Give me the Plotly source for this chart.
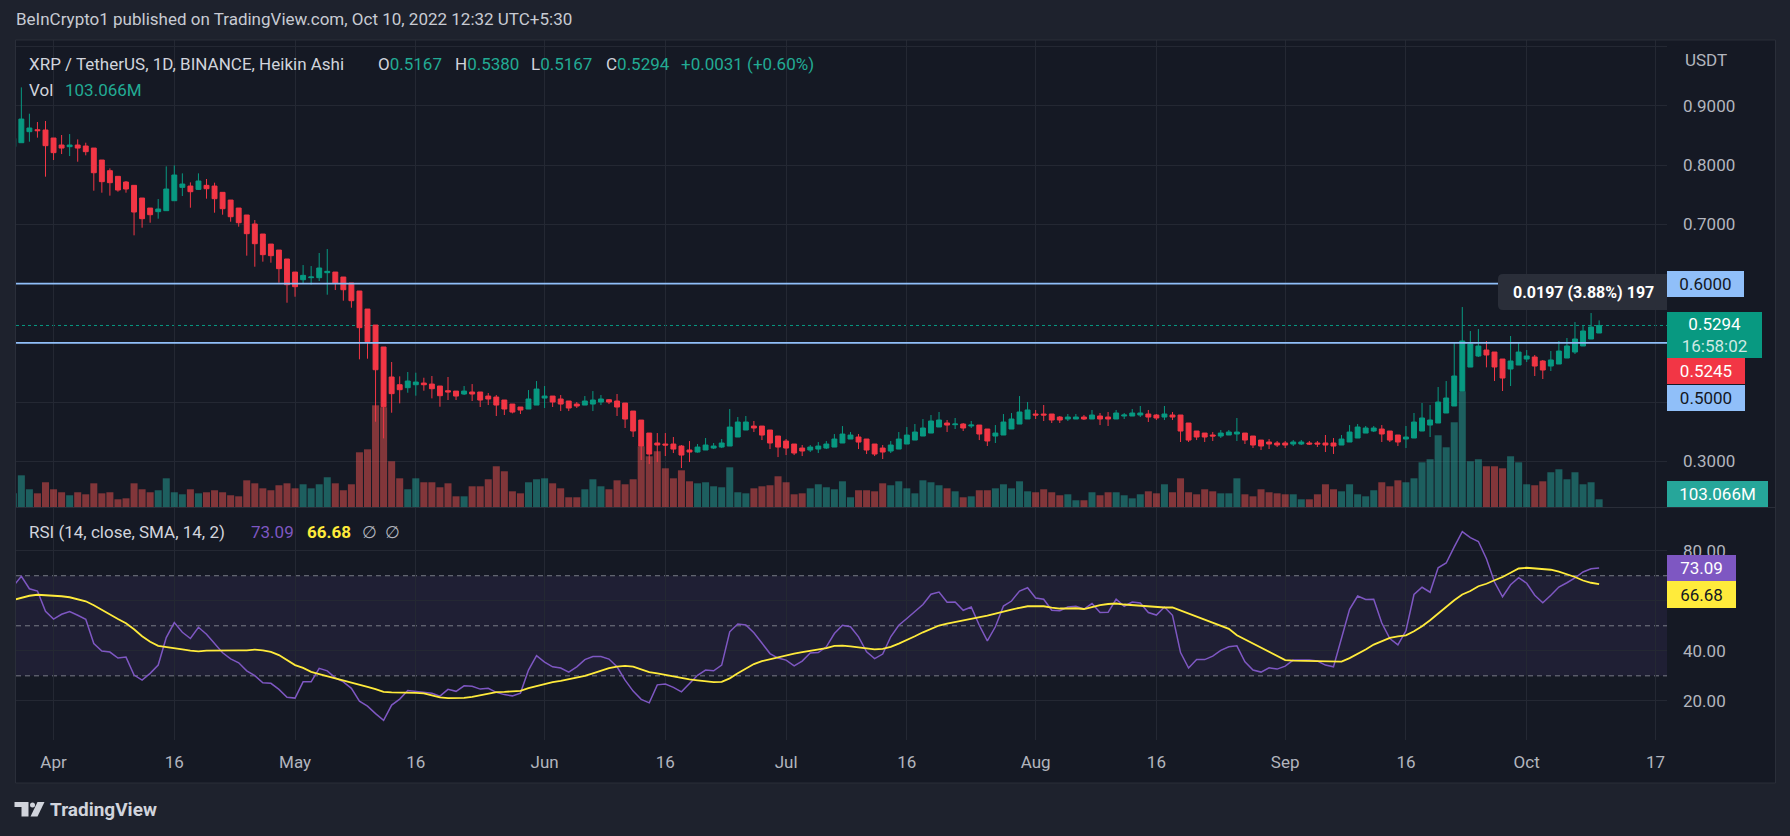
import plotly.graph_objects as go
import pandas as pd

# ---------------- data ----------------
start_date = "2022-03-27"

open_ = [
    0.8309, 0.8376, 0.8562, 0.8595, 0.8590, 0.8455, 0.8337, 0.8309, 0.8337, 0.8320,
    0.8286, 0.8084, 0.7904, 0.7809, 0.7713, 0.7657, 0.7443, 0.7274, 0.7213, 0.7230,
    0.7398, 0.7623, 0.7645, 0.7589, 0.7657, 0.7645, 0.7539, 0.7409, 0.7274, 0.7157,
    0.7005, 0.6836, 0.6667, 0.6566, 0.6415, 0.6195, 0.6066, 0.6100, 0.6100, 0.6184,
    0.6195, 0.6111, 0.6010, 0.5875, 0.5571, 0.5301, 0.4931, 0.4425, 0.4295, 0.4245,
    0.4295, 0.4323, 0.4306, 0.4273, 0.4194, 0.4188, 0.4138, 0.4172, 0.4172, 0.4104,
    0.4087, 0.4037, 0.3969, 0.3919, 0.3885, 0.3952, 0.4070, 0.4104, 0.4054, 0.4020,
    0.3969, 0.3952, 0.3969, 0.4003, 0.4042, 0.4020, 0.3986, 0.3851, 0.3699, 0.3480,
    0.3312, 0.3295, 0.3295, 0.3261, 0.3194, 0.3160, 0.3194, 0.3227, 0.3244, 0.3261,
    0.3413, 0.3531, 0.3598, 0.3598, 0.3531, 0.3430, 0.3345, 0.3295, 0.3227, 0.3194,
    0.3210, 0.3227, 0.3244, 0.3312, 0.3379, 0.3413, 0.3379, 0.3295, 0.3227, 0.3177,
    0.3210, 0.3295, 0.3362, 0.3430, 0.3480, 0.3582, 0.3649, 0.3621, 0.3632, 0.3599,
    0.3615, 0.3548, 0.3430, 0.3447, 0.3548, 0.3632, 0.3717, 0.3801, 0.3801, 0.3801,
    0.3750, 0.3717, 0.3717, 0.3750, 0.3717, 0.3767, 0.3750, 0.3717, 0.3767, 0.3767,
    0.3784, 0.3801, 0.3784, 0.3750, 0.3784, 0.3784, 0.3649, 0.3514, 0.3480, 0.3447,
    0.3430, 0.3447, 0.3464, 0.3480, 0.3430, 0.3362, 0.3329, 0.3312, 0.3312, 0.3295,
    0.3295, 0.3312, 0.3312, 0.3312, 0.3312, 0.3278, 0.3329, 0.3396, 0.3480, 0.3514,
    0.3548, 0.3514, 0.3447, 0.3379, 0.3396, 0.3514, 0.3615, 0.3649, 0.3818, 0.3936,
    0.4189, 0.4593, 0.4779, 0.4880, 0.4846, 0.4728, 0.4560, 0.4627, 0.4728, 0.4762,
    0.4695, 0.4610, 0.4644, 0.4745, 0.4846, 0.4948, 0.5066, 0.5167,
]

high_ = [
    0.8477, 0.9309, 0.8865, 0.8725, 0.8742, 0.8455, 0.8506, 0.8522, 0.8432, 0.8376,
    0.8286, 0.8084, 0.7943, 0.7809, 0.7730, 0.7657, 0.7443, 0.7274, 0.7426, 0.7977,
    0.7994, 0.7859, 0.7707, 0.7859, 0.7764, 0.7702, 0.7539, 0.7409, 0.7274, 0.7157,
    0.7072, 0.6836, 0.6667, 0.6566, 0.6415, 0.6195, 0.6313, 0.6296, 0.6516, 0.6583,
    0.6195, 0.6111, 0.6010, 0.5875, 0.5571, 0.5301, 0.4931, 0.4678, 0.4436, 0.4509,
    0.4498, 0.4413, 0.4442, 0.4273, 0.4425, 0.4188, 0.4273, 0.4306, 0.4172, 0.4155,
    0.4121, 0.4037, 0.3969, 0.3919, 0.4205, 0.4357, 0.4273, 0.4104, 0.4121, 0.4020,
    0.4003, 0.4104, 0.4188, 0.4121, 0.4054, 0.4138, 0.3986, 0.3851, 0.3699, 0.3480,
    0.3480, 0.3480, 0.3413, 0.3278, 0.3345, 0.3295, 0.3396, 0.3312, 0.3379, 0.3885,
    0.3750, 0.3767, 0.3683, 0.3598, 0.3531, 0.3430, 0.3379, 0.3295, 0.3278, 0.3278,
    0.3328, 0.3345, 0.3463, 0.3598, 0.3497, 0.3463, 0.3379, 0.3295, 0.3278, 0.3345,
    0.3497, 0.3581, 0.3632, 0.3716, 0.3784, 0.3835, 0.3700, 0.3734, 0.3649, 0.3683,
    0.3615, 0.3548, 0.3615, 0.3801, 0.3818, 0.4104, 0.4003, 0.3869, 0.3953, 0.3801,
    0.3767, 0.3801, 0.3801, 0.3784, 0.3869, 0.3818, 0.3835, 0.3869, 0.3818, 0.3885,
    0.3936, 0.3869, 0.3801, 0.3936, 0.3835, 0.3784, 0.3649, 0.3514, 0.3480, 0.3497,
    0.3531, 0.3531, 0.3734, 0.3480, 0.3430, 0.3362, 0.3379, 0.3346, 0.3346, 0.3362,
    0.3362, 0.3346, 0.3346, 0.3447, 0.3396, 0.3447, 0.3615, 0.3632, 0.3599, 0.3599,
    0.3615, 0.3514, 0.3447, 0.3599, 0.3818, 0.3987, 0.3953, 0.4256, 0.4357, 0.5015,
    0.5605, 0.5200, 0.5234, 0.5032, 0.4846, 0.4728, 0.5116, 0.4998, 0.4880, 0.4796,
    0.4712, 0.4863, 0.5032, 0.5083, 0.5352, 0.5285, 0.5504, 0.5380,
]

low_ = [
    0.8281, 0.8376, 0.8393, 0.8461, 0.7803, 0.8084, 0.8185, 0.8151, 0.8056, 0.8163,
    0.7567, 0.7533, 0.7483, 0.7550, 0.7533, 0.6814, 0.6943, 0.7027, 0.7095, 0.7230,
    0.7398, 0.7477, 0.7280, 0.7578, 0.7432, 0.7196, 0.7162, 0.7044, 0.6960, 0.6471,
    0.6285, 0.6370, 0.6353, 0.6015, 0.5678, 0.5779, 0.6004, 0.5982, 0.6043, 0.5813,
    0.5892, 0.5712, 0.5594, 0.4723, 0.4734, 0.3671, 0.3390, 0.3823, 0.3981, 0.4160,
    0.4110, 0.4194, 0.4065, 0.3924, 0.4037, 0.4037, 0.4121, 0.4020, 0.3919, 0.3952,
    0.3767, 0.3784, 0.3812, 0.3801, 0.3885, 0.3952, 0.3902, 0.3919, 0.3851, 0.3851,
    0.3902, 0.3952, 0.3851, 0.3952, 0.3969, 0.3767, 0.3565, 0.3413, 0.3025, 0.2957,
    0.2991, 0.3092, 0.3143, 0.2890, 0.2991, 0.3149, 0.3194, 0.3210, 0.3227, 0.3261,
    0.3413, 0.3531, 0.3497, 0.3362, 0.3210, 0.3075, 0.3109, 0.3109, 0.3092, 0.3160,
    0.3143, 0.3210, 0.3244, 0.3312, 0.3379, 0.3210, 0.3126, 0.3092, 0.3042, 0.3143,
    0.3210, 0.3295, 0.3362, 0.3430, 0.3480, 0.3582, 0.3497, 0.3548, 0.3514, 0.3565,
    0.3362, 0.3261, 0.3312, 0.3447, 0.3548, 0.3632, 0.3717, 0.3717, 0.3683, 0.3649,
    0.3649, 0.3683, 0.3717, 0.3700, 0.3717, 0.3615, 0.3599, 0.3717, 0.3717, 0.3767,
    0.3750, 0.3666, 0.3700, 0.3700, 0.3700, 0.3329, 0.3329, 0.3362, 0.3329, 0.3346,
    0.3396, 0.3447, 0.3346, 0.3295, 0.3228, 0.3194, 0.3211, 0.3245, 0.3228, 0.3261,
    0.3278, 0.3278, 0.3245, 0.3160, 0.3127, 0.3278, 0.3329, 0.3396, 0.3480, 0.3497,
    0.3329, 0.3329, 0.3261, 0.3228, 0.3396, 0.3514, 0.3413, 0.3649, 0.3818, 0.3936,
    0.4189, 0.4593, 0.4762, 0.4588, 0.4358, 0.4189, 0.4273, 0.4627, 0.4678, 0.4442,
    0.4391, 0.4526, 0.4644, 0.4745, 0.4813, 0.4948, 0.5066, 0.5167,
]

close_ = [
    0.8449, 0.8775, 0.8624, 0.8579, 0.8326, 0.8208, 0.8286, 0.8337, 0.8286, 0.8225,
    0.7870, 0.7719, 0.7702, 0.7578, 0.7595, 0.7207, 0.7095, 0.7162, 0.7258, 0.7595,
    0.7831, 0.7679, 0.7550, 0.7730, 0.7600, 0.7432, 0.7263, 0.7128, 0.7027, 0.6842,
    0.6673, 0.6488, 0.6471, 0.6252, 0.5982, 0.5948, 0.6139, 0.6111, 0.6263, 0.6207,
    0.6004, 0.5897, 0.5712, 0.5257, 0.5020, 0.4548, 0.3924, 0.4144, 0.4211, 0.4357,
    0.4340, 0.4295, 0.4228, 0.4110, 0.4172, 0.4104, 0.4188, 0.4138, 0.4037, 0.4054,
    0.3952, 0.3885, 0.3834, 0.3868, 0.4054, 0.4222, 0.4104, 0.4003, 0.3969, 0.3902,
    0.3936, 0.4020, 0.4037, 0.4054, 0.4003, 0.3919, 0.3716, 0.3514, 0.3261, 0.3126,
    0.3278, 0.3278, 0.3210, 0.3109, 0.3160, 0.3244, 0.3278, 0.3261, 0.3312, 0.3581,
    0.3666, 0.3666, 0.3565, 0.3446, 0.3312, 0.3244, 0.3227, 0.3143, 0.3177, 0.3244,
    0.3261, 0.3295, 0.3379, 0.3463, 0.3446, 0.3328, 0.3194, 0.3126, 0.3160, 0.3278,
    0.3379, 0.3446, 0.3497, 0.3565, 0.3683, 0.3700, 0.3615, 0.3632, 0.3565, 0.3615,
    0.3464, 0.3346, 0.3480, 0.3666, 0.3717, 0.3835, 0.3869, 0.3784, 0.3784, 0.3700,
    0.3700, 0.3750, 0.3750, 0.3717, 0.3784, 0.3717, 0.3717, 0.3818, 0.3784, 0.3818,
    0.3818, 0.3750, 0.3734, 0.3801, 0.3750, 0.3514, 0.3362, 0.3413, 0.3413, 0.3430,
    0.3480, 0.3497, 0.3497, 0.3362, 0.3278, 0.3261, 0.3295, 0.3278, 0.3278, 0.3329,
    0.3329, 0.3295, 0.3295, 0.3278, 0.3261, 0.3379, 0.3497, 0.3582, 0.3565, 0.3565,
    0.3464, 0.3362, 0.3329, 0.3413, 0.3666, 0.3734, 0.3700, 0.4003, 0.4071, 0.4442,
    0.5032, 0.4981, 0.4947, 0.4796, 0.4594, 0.4408, 0.4695, 0.4846, 0.4779, 0.4610,
    0.4543, 0.4712, 0.4863, 0.4948, 0.5066, 0.5201, 0.5268, 0.5294,
]

volume_m = [
    183, 424, 237, 183, 331, 237, 197, 157, 197, 170,
    317, 183, 197, 103, 116, 317, 237, 197, 224, 384,
    197, 170, 237, 183, 197, 224, 197, 157, 143, 357,
    317, 250, 224, 291, 317, 250, 304, 250, 304, 398,
    317, 224, 304, 732, 772, 1361, 1335, 612, 384, 237,
    384, 331, 331, 264, 317, 143, 143, 277, 277, 371,
    545, 478, 210, 183, 331, 371, 384, 317, 250, 130,
    130, 237, 371, 277, 237, 357, 304, 371, 813, 679,
    746, 518, 384, 491, 344, 317, 331, 277, 264, 531,
    197, 183, 250, 277, 291, 411, 331, 170, 183, 250,
    304, 264, 237, 344, 130, 224, 224, 210, 317, 291,
    344, 250, 183, 357, 331, 291, 250, 210, 130, 143,
    224, 224, 250, 304, 250, 344, 210, 197, 237, 197,
    157, 170, 90, 90, 197, 157, 197, 197, 157, 116,
    170, 210, 183, 304, 197, 384, 197, 170, 237, 210,
    183, 183, 384, 170, 143, 237, 197, 183, 170, 170,
    103, 103, 170, 304, 237, 210, 304, 170, 143, 224,
    331, 277, 357, 331, 384, 598, 639, 960, 799, 1134,
    1549, 612, 639, 545, 545, 518, 679, 598, 304, 291,
    344, 465, 505, 371, 465, 304, 331, 103.066,
]

rsi = [
    65.8, 69.8, 64.8, 63.9, 55.8, 52.7, 54.6, 55.7, 54.2, 52.6,
    42.9, 39.9, 39.5, 37.1, 37.5, 30.3, 28.3, 31.0, 34.3, 45.3,
    51.3, 47.4, 44.9, 49.4, 46.6, 42.9, 39.2, 36.8, 35.2, 32.0,
    30.1, 27.2, 27.0, 24.6, 21.4, 21.1, 27.6, 27.6, 33.0, 32.0,
    29.2, 27.6, 25.0, 19.9, 17.9, 14.9, 12.2, 18.3, 20.7, 24.1,
    23.8, 23.5, 23.0, 21.9, 24.6, 23.8, 26.0, 25.8, 24.7, 25.0,
    23.4, 22.5, 22.0, 23.1, 32.3, 38.1, 35.5, 33.6, 33.1, 31.5,
    33.6, 36.5, 37.7, 37.7, 36.7, 33.6, 28.3, 23.9, 20.6, 19.2,
    26.4, 26.7, 25.4, 23.6, 26.7, 30.2, 32.3, 32.0, 34.3, 47.6,
    50.7, 50.3, 47.2, 42.9, 38.9, 37.1, 36.3, 34.0, 35.9, 39.1,
    39.3, 41.6, 46.9, 50.2, 49.6, 45.6, 39.6, 36.9, 38.7, 45.6,
    50.2, 52.9, 55.7, 58.5, 62.6, 63.5, 59.4, 59.5, 56.2, 57.5,
    50.2, 44.0, 49.6, 57.9, 59.9, 63.9, 65.2, 61.1, 60.6, 56.2,
    56.0, 57.5, 57.8, 56.7, 58.9, 55.3, 55.4, 60.6, 57.8, 59.5,
    59.1, 55.3, 54.3, 57.5, 54.2, 39.3, 33.1, 36.5, 36.5, 37.9,
    40.2, 41.6, 42.0, 35.6, 32.3, 31.5, 33.2, 32.7, 33.9, 36.3,
    36.3, 36.3, 35.9, 34.3, 33.6, 45.3, 56.6, 61.9, 60.5, 60.6,
    51.1, 44.9, 42.4, 48.0, 62.5, 65.4, 63.4, 73.2, 75.1, 81.5,
    87.6, 85.2, 83.7, 76.8, 67.5, 61.6, 66.4, 69.2, 67.0, 62.2,
    59.2, 62.2, 65.5, 67.2, 69.1, 71.5, 72.8, 73.09,
]

rsi_sma = [
    60.3, 61.2, 62.0, 62.4, 62.3, 62.0, 61.8, 61.4, 60.7, 59.8,
    58.2, 56.3, 54.5, 52.7, 51.0, 48.6, 45.8, 43.6, 42.0, 41.6,
    41.3, 40.6, 40.1, 39.8, 40.1, 40.2, 40.2, 40.2, 40.2, 40.2,
    40.5, 40.2, 39.6, 38.3, 36.3, 34.3, 33.2, 31.6, 30.7, 29.9,
    29.0, 28.3, 27.4, 26.6, 25.6, 24.7, 23.6, 23.4, 23.4, 23.5,
    23.2, 23.0, 22.3, 21.4, 21.1, 21.0, 21.2, 21.6, 22.3, 23.0,
    23.5, 23.6, 23.8, 24.0, 25.1, 25.9, 26.8, 27.5, 28.0, 28.6,
    29.1, 30.0, 31.0, 32.0, 33.1, 33.7, 34.0, 33.7, 32.5, 31.5,
    31.0, 30.4, 29.6, 29.0, 28.6, 28.2, 27.8, 27.5, 27.6, 29.0,
    31.0, 33.0, 34.7, 35.9, 36.7, 37.5, 38.1, 38.9, 39.5, 40.0,
    40.5, 41.1, 42.0, 42.1, 41.8, 41.3, 40.8, 40.6, 40.8, 41.6,
    42.9, 44.2, 45.8, 47.4, 48.9, 50.1, 50.9, 51.5, 52.0, 52.9,
    53.5, 54.1, 54.9, 55.8, 56.5, 57.2, 57.8, 57.8, 57.8, 57.3,
    56.9, 56.9, 57.0, 56.7, 57.5, 58.3, 58.7, 58.9, 58.5, 58.2,
    58.1, 57.8, 57.4, 57.3, 57.3, 56.1, 54.7, 53.5, 52.3, 51.2,
    50.1, 48.8, 46.2, 44.5, 42.9, 41.2, 39.6, 38.0, 36.3, 36.1,
    36.0, 36.0, 35.9, 35.7, 35.5, 35.7, 37.1, 38.7, 40.5, 42.5,
    44.0, 45.2, 45.8, 46.2, 47.8, 49.8, 52.2, 54.9, 57.5, 60.2,
    62.5, 63.9, 65.8, 66.8, 68.2, 69.5, 71.2, 72.9, 73.2, 72.9,
    72.8, 72.4, 71.6, 70.7, 69.5, 68.1, 67.2, 66.68,
]

tick_dates = ["2022-04-01", "2022-04-16", "2022-05-01", "2022-05-16", "2022-06-01",
              "2022-06-16", "2022-07-01", "2022-07-16", "2022-08-01", "2022-08-16",
              "2022-09-01", "2022-09-16", "2022-10-01", "2022-10-17"]
tick_labels = ["Apr", "16", "May", "16", "Jun", "16", "Jul", "16", "Aug", "16",
               "Sep", "16", "Oct", "17"]
# grid levels; labels hidden behind the value boxes are left blank (as in the picture)
price_ticks = [0.3, 0.4, 0.5, 0.6, 0.7, 0.8, 0.9, 1.0]
price_tick_text = ["0.3000", "", "", "", "0.7000", "0.8000", "0.9000", ""]
rsi_ticks = [20, 40, 60, 80]
rsi_tick_text = ["20.00", "40.00", "", "80.00"]
hline_levels = [0.6, 0.5]
last_price = 0.5294
real_price = 0.5245
rsi_last = 73.09
sma_last = 66.68
vol_last_text = "103.066M"
measure_text = "0.0197 (3.88%) 197"

dates = pd.date_range(start_date, periods=len(close_), freq="D")

# ---------------- styling / geometry ----------------
W, H = 1790, 836
PL, PR, PT, PB = 16, 1667, 40, 740      # plot-area edges in px
SEP = 507                               # price / RSI pane separator (px)

def fx(px):
    return (px - PL) / (PR - PL)

def fy(py):
    return (PB - py) / (PB - PT)

PAGE = "#1e222d"
PANEL = "#151924"
GRID = "#242833"
BORDER = "#2a2e39"
AXIS_TXT = "#b2b5be"
LEG_TXT = "#d1d4dc"
GREEN = "#089981"
RED = "#f23645"
TEAL_TXT = "#22ab94"
PURPLE = "#7e57c2"
YELLOW = "#ffeb3b"
BLUE = "#90bff9"
FONT = "Roboto"

up = [c >= o for o, c in zip(open_, close_)]
vol_colors = ["rgba(38,166,154,0.5)" if u else "rgba(239,83,80,0.5)" for u in up]

fig = go.Figure()
fig.add_trace(go.Bar(x=dates, y=volume_m, xaxis="x", yaxis="y",
                     marker=dict(color=vol_colors, line=dict(width=0)),
                     hoverinfo="skip"))
fig.add_trace(go.Candlestick(
    x=dates, open=open_, high=high_, low=low_, close=close_,
    xaxis="x", yaxis="y3", whiskerwidth=0, hoverinfo="skip",
    increasing=dict(line=dict(color=GREEN, width=1), fillcolor=GREEN),
    decreasing=dict(line=dict(color=RED, width=1), fillcolor=RED)))
fig.add_trace(go.Scatter(x=dates, y=rsi, xaxis="x", yaxis="y2", mode="lines",
                         line=dict(color=PURPLE, width=1.5), hoverinfo="skip"))
fig.add_trace(go.Scatter(x=dates, y=rsi_sma, xaxis="x", yaxis="y2", mode="lines",
                         line=dict(color=YELLOW, width=1.8), hoverinfo="skip"))

axis_font = dict(family=FONT, size=17, color=AXIS_TXT)

fig.update_layout(
    width=W, height=H,
    margin=dict(l=PL, r=W - PR, t=PT, b=H - PB, autoexpand=False),
    paper_bgcolor=PAGE, plot_bgcolor=PANEL,
    showlegend=False, bargap=0.13, boxgap=0.13,
    font=dict(family=FONT, size=17, color=AXIS_TXT),
    xaxis=dict(type="date", range=["2022-03-27 08:03", "2022-10-18 10:20"],
               anchor="y2", tickvals=tick_dates, ticktext=tick_labels,
               showgrid=True, gridcolor=GRID, gridwidth=1, ticks="",
               showline=False, zeroline=False, rangeslider=dict(visible=False),
               tickfont=axis_font, ticklabelstandoff=10, fixedrange=True),
    yaxis=dict(domain=[fy(SEP), 1.0], range=[0, 6250], visible=False,
               showgrid=False, zeroline=False, fixedrange=True),
    yaxis3=dict(overlaying="y", side="right", anchor="x",
                range=[0.2233, 1.0108], tickvals=price_ticks, ticktext=price_tick_text,
                showgrid=True, gridcolor=GRID, zeroline=False, ticks="",
                showline=False, tickfont=axis_font, ticklabelstandoff=15,
                fixedrange=True),
    yaxis2=dict(domain=[0, fy(SEP + 1)], anchor="x", side="right",
                range=[4.36, 97.07], tickvals=rsi_ticks, ticktext=rsi_tick_text,
                showgrid=True, gridcolor=GRID, zeroline=False, ticks="",
                showline=False, tickfont=axis_font, ticklabelstandoff=15,
                fixedrange=True),
)

shapes = []
# chart panel background + border
shapes.append(dict(type="rect", xref="paper", yref="paper", layer="below",
                   x0=fx(15), x1=fx(1775), y0=fy(783), y1=fy(40),
                   fillcolor=PANEL, line=dict(width=0)))
# RSI background band
shapes.append(dict(type="rect", xref="paper", yref="y2", layer="below",
                   x0=0, x1=1, y0=30, y1=70,
                   fillcolor="rgba(126,87,194,0.10)", line=dict(width=0)))
for lvl in (70, 50, 30):
    shapes.append(dict(type="line", xref="paper", yref="y2", layer="between",
                       x0=0, x1=1, y0=lvl, y1=lvl,
                       line=dict(color="#787b86", width=1, dash="5px,4px")))
# horizontal drawn levels
for lvl in hline_levels:
    shapes.append(dict(type="line", xref="paper", yref="y3", layer="above",
                       x0=0, x1=1, y0=lvl, y1=lvl,
                       line=dict(color=BLUE, width=1.7)))
# last price dotted line
shapes.append(dict(type="line", xref="paper", yref="y3", layer="between",
                   x0=0, x1=1, y0=last_price, y1=last_price,
                   line=dict(color=GREEN, width=1, dash="dot")))
# pane separator and panel borders
shapes.append(dict(type="line", xref="paper", yref="paper",
                   x0=fx(15), x1=fx(1775), y0=fy(SEP + 0.5), y1=fy(SEP + 0.5),
                   line=dict(color=BORDER, width=1)))
shapes.append(dict(type="rect", xref="paper", yref="paper",
                   x0=fx(15.5), x1=fx(1775.5), y0=fy(783), y1=fy(40),
                   line=dict(color=BORDER, width=1), fillcolor="rgba(0,0,0,0)"))

# measure tool box (rounded left corners)
bx0, bx1, by0, by1, r = 1498, 1667, 274, 310, 5
path = (f"M {fx(bx0 + r)},{fy(by0)} L {fx(bx1)},{fy(by0)} L {fx(bx1)},{fy(by1)} "
        f"L {fx(bx0 + r)},{fy(by1)} Q {fx(bx0)},{fy(by1)} {fx(bx0)},{fy(by1 - r)} "
        f"L {fx(bx0)},{fy(by0 + r)} Q {fx(bx0)},{fy(by0)} {fx(bx0 + r)},{fy(by0)} Z")
shapes.append(dict(type="path", xref="paper", yref="paper", path=path,
                   fillcolor="#2a2e39", line=dict(width=0)))

# TradingView logo mark
LOGO = "#d1d4dc"
shapes.append(dict(type="rect", xref="paper", yref="paper",
                   x0=fx(14.5), x1=fx(28.5), y0=fy(807), y1=fy(802),
                   fillcolor=LOGO, line=dict(width=0)))
shapes.append(dict(type="rect", xref="paper", yref="paper",
                   x0=fx(21.5), x1=fx(28.5), y0=fy(816.5), y1=fy(807),
                   fillcolor=LOGO, line=dict(width=0)))
shapes.append(dict(type="circle", xref="paper", yref="paper",
                   x0=fx(30), x1=fx(35), y0=fy(807.5), y1=fy(802.5),
                   fillcolor=LOGO, line=dict(width=0)))
shapes.append(dict(type="path", xref="paper", yref="paper",
                   path=(f"M {fx(37.5)},{fy(802)} L {fx(44.5)},{fy(802)} "
                         f"L {fx(37.5)},{fy(816.5)} L {fx(30.5)},{fy(816.5)} Z"),
                   fillcolor=LOGO, line=dict(width=0)))

fig.update_layout(shapes=shapes)

ann = []

def text_at(txt, x_px, y_px, color, size=17, bold=False, anchor="left"):
    ann.append(dict(text=(f"<b>{txt}</b>" if bold else txt), xref="paper", yref="paper",
                    x=fx(x_px), y=fy(y_px), xanchor=anchor, yanchor="middle",
                    showarrow=False, font=dict(family=FONT, size=size, color=color)))

def axis_box(txt, yref, yval, bg, fg, w, h, yshift=0, yanchor="middle"):
    ann.append(dict(text=txt, xref="paper", x=1.0, xanchor="left",
                    yref=yref, y=yval, yanchor=yanchor, yshift=yshift,
                    showarrow=False, bgcolor=bg, borderpad=0, borderwidth=0,
                    width=w, height=h, align="center", valign="middle",
                    font=dict(family=FONT, size=17, color=fg)))

# header line above the chart
text_at("BeInCrypto1 published on TradingView.com, Oct 10, 2022 12:32 UTC+5:30",
        14, 19.5, "#c8cbd3")

# main legend
def sp(c, t):
    return f"<span style='color:{c}'>{t}</span>"

y_leg = 63.5
text_at("XRP / TetherUS, 1D, BINANCE, Heikin Ashi", 27, y_leg, LEG_TXT)
text_at("O" + sp(TEAL_TXT, f"{open_[-1]:.4f}"), 376, y_leg, LEG_TXT)
text_at("H" + sp(TEAL_TXT, f"{high_[-1]:.4f}"), 453, y_leg, LEG_TXT)
text_at("L" + sp(TEAL_TXT, f"{low_[-1]:.4f}"), 529, y_leg, LEG_TXT)
text_at("C" + sp(TEAL_TXT, f"{close_[-1]:.4f}"), 604, y_leg, LEG_TXT)
text_at("+0.0031 (+0.60%)", 679, y_leg, TEAL_TXT)
text_at("Vol", 27, 90, LEG_TXT)
text_at(vol_last_text, 63, 90, TEAL_TXT)

# RSI legend
y_rsi = 531.5
text_at("RSI (14, close, SMA, 14, 2)", 27, y_rsi, LEG_TXT)
text_at(f"{rsi_last:.2f}", 249, y_rsi, PURPLE)
text_at(f"{sma_last:.2f}", 305, y_rsi, YELLOW, bold=True)
text_at("\u2205", 360, y_rsi, AXIS_TXT)
text_at("\u2205", 383, y_rsi, AXIS_TXT)

# price-scale header
text_at("USDT", 1683, 60.5, AXIS_TXT)

# measure tool text
text_at(measure_text, 1511, 292, "#ffffff", size=16, bold=True)

# price axis labels
axis_box("0.6000", "y3", hline_levels[0], BLUE, "#131722", 77, 26)
axis_box(f"{last_price:.4f}<br><span style='color:#cfe9e4'>16:58:02</span>", "y3",
         last_price, GREEN, "#ffffff", 95, 46, yshift=13.5, yanchor="top")
axis_box(f"{real_price:.4f}", "y3", real_price, RED, "#ffffff", 78, 26, yshift=-43)
axis_box("0.5000", "y3", hline_levels[1], BLUE, "#131722", 78, 26, yshift=-55)
axis_box(vol_last_text, "y", 0, "#26a69a", "#ffffff", 101, 26, yanchor="bottom")
axis_box(f"{rsi_last:.2f}", "y2", rsi_last, PURPLE, "#ffffff", 69, 26)
axis_box(f"{sma_last:.2f}", "y2", sma_last, YELLOW, "#131722", 69, 27, yshift=-10)

# footer wordmark
text_at("TradingView", 48, 809, "#d1d4dc", size=19, bold=True)

fig.update_layout(annotations=ann)

fig.write_html("out.html", config={"displayModeBar": False},
               post_script="document.body.style.margin='0px';"
                           "document.body.style.overflow='hidden';")
